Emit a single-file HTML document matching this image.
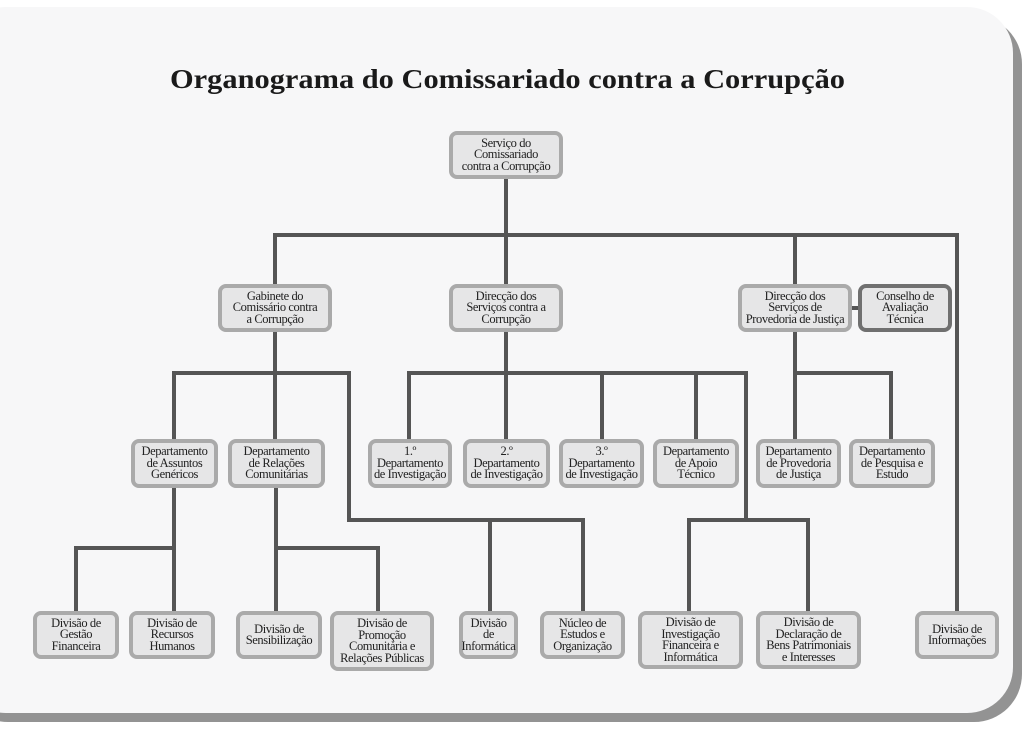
<!DOCTYPE html>
<html><head><meta charset="utf-8"><style>
html,body{margin:0;padding:0;background:#fff;}
#wrap{position:relative;width:1028px;height:732px;overflow:hidden;}
.shadow{position:absolute;left:-40px;top:16px;width:1062px;height:706px;background:#939393;border-radius:48px;}
.card{position:absolute;left:-40px;top:7px;width:1053px;height:706px;background:#f7f7f8;border-radius:46px;}
.b{position:absolute;box-sizing:border-box;border:4px solid #aaaaaa;background:#e6e6e7;border-radius:8px;display:flex;align-items:center;justify-content:center;text-align:center;font-family:"Liberation Serif",serif;font-size:12.5px;line-height:11.5px;color:#222;white-space:nowrap;letter-spacing:-0.4px;overflow:visible;}
svg{position:absolute;left:0;top:0;}
</style></head><body><div id="wrap">
<div class="shadow"></div><div class="card"></div>
<svg width="1028" height="732">
<text x="170" y="88" textLength="675" lengthAdjust="spacingAndGlyphs" font-family="Liberation Serif" font-weight="bold" font-size="27" fill="#1a1a1a">Organograma do Comissariado contra a Corrupção</text>
<g stroke="#555" stroke-width="4" fill="none" stroke-linecap="square">
<line x1="506" y1="178" x2="506" y2="285"/>
<line x1="275" y1="235" x2="957" y2="235"/>
<line x1="275" y1="235" x2="275" y2="285"/>
<line x1="795" y1="235" x2="795" y2="285"/>
<line x1="957" y1="235" x2="957" y2="612"/>
<line x1="851" y1="308" x2="859" y2="308"/>
<line x1="275" y1="331" x2="275" y2="439"/>
<line x1="174" y1="373" x2="349" y2="373"/>
<line x1="174" y1="373" x2="174" y2="612"/>
<line x1="349" y1="373" x2="349" y2="520"/>
<line x1="349" y1="520" x2="583" y2="520"/>
<line x1="490" y1="520" x2="490" y2="612"/>
<line x1="583" y1="520" x2="583" y2="612"/>
<line x1="506" y1="331" x2="506" y2="439"/>
<line x1="409" y1="373" x2="746" y2="373"/>
<line x1="409" y1="373" x2="409" y2="439"/>
<line x1="602" y1="373" x2="602" y2="439"/>
<line x1="696" y1="373" x2="696" y2="439"/>
<line x1="746" y1="373" x2="746" y2="520"/>
<line x1="689" y1="520" x2="808" y2="520"/>
<line x1="689" y1="520" x2="689" y2="612"/>
<line x1="808" y1="520" x2="808" y2="612"/>
<line x1="795" y1="331" x2="795" y2="439"/>
<line x1="795" y1="373" x2="891" y2="373"/>
<line x1="891" y1="373" x2="891" y2="439"/>
<line x1="76" y1="548" x2="174" y2="548"/>
<line x1="76" y1="548" x2="76" y2="612"/>
<line x1="276" y1="487" x2="276" y2="612"/>
<line x1="276" y1="548" x2="378" y2="548"/>
<line x1="378" y1="548" x2="378" y2="612"/>
</g></svg>
<div class="b" style="left:449px;top:131px;width:114px;height:48px">Serviço do<br>Comissariado<br>contra a Corrupção</div>
<div class="b" style="left:218px;top:284px;width:114px;height:48px">Gabinete do<br>Comissário contra<br>a Corrupção</div>
<div class="b" style="left:449px;top:284px;width:114px;height:48px">Direcção dos<br>Serviços contra a<br>Corrupção</div>
<div class="b" style="left:738px;top:284px;width:114px;height:48px">Direcção dos<br>Serviços de<br>Provedoria de Justiça</div>
<div class="b" style="left:858px;top:284px;width:94px;height:48px;border-color:#707070">Conselho de<br>Avaliação<br>Técnica</div>
<div class="b" style="left:131px;top:439px;width:87px;height:49px">Departamento<br>de Assuntos<br>Genéricos</div>
<div class="b" style="left:228px;top:439px;width:97px;height:49px">Departamento<br>de Relações<br>Comunitárias</div>
<div class="b" style="left:368px;top:439px;width:84px;height:49px">1.º<br>Departamento<br>de Investigação</div>
<div class="b" style="left:463px;top:439px;width:87px;height:49px">2.º<br>Departamento<br>de Investigação</div>
<div class="b" style="left:559px;top:439px;width:85px;height:49px">3.º<br>Departamento<br>de Investigação</div>
<div class="b" style="left:653px;top:439px;width:86px;height:49px">Departamento<br>de Apoio<br>Técnico</div>
<div class="b" style="left:756px;top:439px;width:85px;height:49px">Departamento<br>de Provedoria<br>de Justiça</div>
<div class="b" style="left:849px;top:439px;width:86px;height:49px">Departamento<br>de Pesquisa e<br>Estudo</div>
<div class="b" style="left:33px;top:611px;width:86px;height:48px">Divisão de<br>Gestão<br>Financeira</div>
<div class="b" style="left:129px;top:611px;width:86px;height:48px">Divisão de<br>Recursos<br>Humanos</div>
<div class="b" style="left:236px;top:611px;width:86px;height:48px">Divisão de<br>Sensibilização</div>
<div class="b" style="left:330px;top:611px;width:104px;height:60px">Divisão de<br>Promoção<br>Comunitária e<br>Relações Públicas</div>
<div class="b" style="left:459px;top:611px;width:59px;height:48px">Divisão<br>de<br>Informática</div>
<div class="b" style="left:540px;top:611px;width:85px;height:48px">Núcleo de<br>Estudos e<br>Organização</div>
<div class="b" style="left:638px;top:611px;width:105px;height:58px">Divisão de<br>Investigação<br>Financeira e<br>Informática</div>
<div class="b" style="left:756px;top:611px;width:105px;height:58px">Divisão de<br>Declaração de<br>Bens Patrimoniais<br>e Interesses</div>
<div class="b" style="left:915px;top:611px;width:84px;height:48px">Divisão de<br>Informações</div>
</div></body></html>
